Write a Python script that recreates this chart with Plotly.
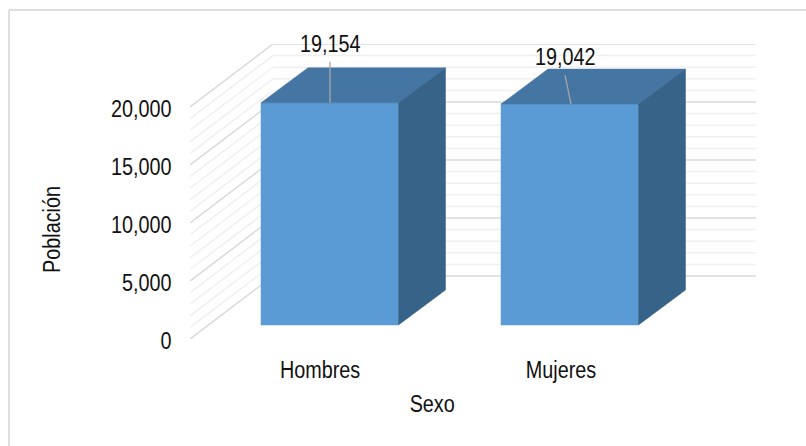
import plotly.graph_objects as go

categories = ["Hombres", "Mujeres"]
values = [19154, 19042]
tick_values = [0, 5000, 10000, 15000, 20000]
minor_values = [v * 1000 for v in range(0, 21)]

W, H = 806, 446
L, R, T, B = 190, 756, 44, 339
UNITS_PER_PX = 5000 / 58.0
Y_MAX = (B - T) * UNITS_PER_PX

WALL_DX = 83
WALL_DY = 63 * UNITS_PER_PX
BAR_LEFT = [261, 501]
BAR_W = 137.5
BAR_DX = 47
BAR_DY = 35 * UNITS_PER_PX
BAR_BASE = 14 * UNITS_PER_PX
FONT = "Liberation Sans, Arial, sans-serif"
FS = 23
TXT = "#111111"

fig = go.Figure()


def poly(xs, ys, color):
    fig.add_trace(go.Scatter(x=xs + xs[:1], y=ys + ys[:1], mode="lines", fill="toself",
                             fillcolor=color, line=dict(color=color, width=0.5),
                             hoverinfo="skip", showlegend=False, cliponaxis=False))


def px(x):
    return (x - L) / (R - L)


def py(y):
    return (B - y) / (B - T)


for v in minor_values:
    major = v % 5000 == 0
    fig.add_trace(go.Scatter(
        x=[L, L + WALL_DX, R], y=[v, v + WALL_DY, v + WALL_DY], mode="lines",
        line=dict(color="#d9d9d9" if major else "#f0f0f0", width=1.5),
        hoverinfo="skip", showlegend=False, cliponaxis=False))

for x0, v in zip(BAR_LEFT, values):
    x1 = x0 + BAR_W
    base = BAR_BASE
    top = v + BAR_BASE
    poly([x0, x1, x1, x0], [base, base, top, top], "#5b9bd5")
    poly([x0, x1, x1 + BAR_DX, x0 + BAR_DX], [top, top, top + BAR_DY, top + BAR_DY], "#4575a2")
    poly([x1, x1 + BAR_DX, x1 + BAR_DX, x1], [base, base + BAR_DY, top + BAR_DY, top], "#386388")

# data labels with leader lines
label_x = [330, 565]
label_end_x = [330, 571]
label_gap = [41 * UNITS_PER_PX, 29 * UNITS_PER_PX]
for i, v in enumerate(values):
    top = v + BAR_BASE
    fig.add_trace(go.Scatter(x=[label_x[i], label_end_x[i]], y=[top + label_gap[i], top],
                             mode="lines", line=dict(color="#a6a6a6", width=1.3),
                             hoverinfo="skip", showlegend=False, cliponaxis=False))
    fig.add_annotation(x=label_x[i], y=top + label_gap[i], yshift=3, text=f"{v:,}", showarrow=False,
                       yanchor="bottom", xanchor="center", font=dict(family=FONT, size=FS, color=TXT))

# axis titles, placed off-centre as in the reference
fig.add_annotation(xref="paper", yref="paper", x=px(432), y=py(404), text="Sexo", showarrow=False,
                   xanchor="center", yanchor="middle", font=dict(family=FONT, size=FS, color=TXT))
fig.add_annotation(xref="paper", yref="paper", x=px(52), y=py(230), text="Población", showarrow=False,
                   textangle=-90, xanchor="center", yanchor="middle",
                   font=dict(family=FONT, size=FS, color=TXT))

fig.add_shape(type="line", xref="paper", yref="paper",
              x0=px(9), x1=px(9), y0=py(446), y1=py(10),
              line=dict(color="#dedede", width=2), layer="below")
fig.add_shape(type="line", xref="paper", yref="paper",
              x0=px(9), x1=px(806), y0=py(10), y1=py(10),
              line=dict(color="#dedede", width=2), layer="below")

fig.update_layout(
    width=W, height=H, margin=dict(l=L, r=W - R, t=T, b=H - B, autoexpand=False),
    paper_bgcolor="white", plot_bgcolor="rgba(0,0,0,0)", showlegend=False,
    font=dict(family=FONT, size=FS, color=TXT),
    xaxis=dict(range=[L, R], tickmode="array", tickvals=[320, 561], ticktext=categories,
               showgrid=False, zeroline=False, showline=False,
               ticks="outside", ticklen=10, tickcolor="rgba(0,0,0,0)"),
    yaxis=dict(range=[0, Y_MAX], tickmode="array", tickvals=tick_values,
               tickformat=",d", showgrid=False, zeroline=False, showline=False,
               ticks="outside", ticklen=13, tickcolor="rgba(0,0,0,0)", ticklabelshift=2),
)

post = """
document.body.style.margin = '0';
document.querySelectorAll('.xtick text, .ytick text, .annotation-text').forEach(function (t) {
  var n = t.getComputedTextLength();
  t.setAttribute('textLength', n * 0.86);
  t.setAttribute('lengthAdjust', 'spacingAndGlyphs');
});
"""
fig.write_html("out.html", post_script=post, config=dict(displayModeBar=False))
